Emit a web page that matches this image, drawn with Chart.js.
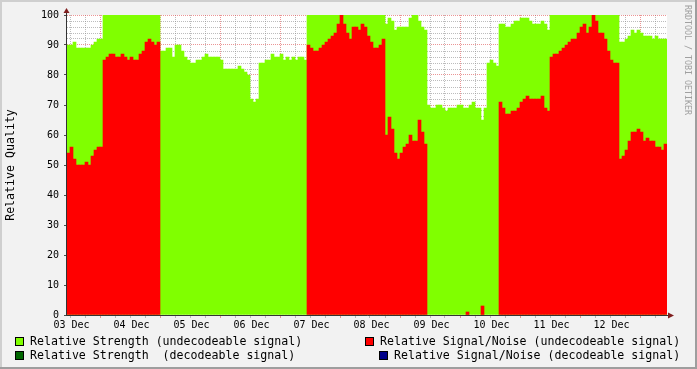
<!DOCTYPE html>
<html>
<head>
<meta charset="utf-8">
<script src="https://cdn.jsdelivr.net/npm/chart.js@4/dist/chart.umd.min.js"></script>
<style>
  html, body { margin: 0; padding: 0; background: #f2f2f2; }
  #wrap { position: relative; width: 697px; height: 369px; overflow: hidden; font-family: 'DejaVu Sans Mono', monospace; }
  #chart { position: absolute; left: 0; top: 0; }
  .leg { position: absolute; font-size: 11.6px; line-height: 14px; color: #000; white-space: pre; padding-left: 15px; }
  .leg i { position: absolute; left: 0; top: 3px; width: 7px; height: 7px; border: 1px solid #000; }
  #mark { position: absolute; left: 683px; top: 5px; writing-mode: vertical-rl; font-size: 8.3px; line-height: 10px; color: #a0a0a0; white-space: pre; }
</style>
</head>
<body>
<div id="wrap">
  <canvas id="chart" width="697" height="369"></canvas>
  <div id="legend"></div>
  <div id="mark">RRDTOOL / TOBI OETIKER</div>
</div>
<script>
// one day = 20 samples (72 min each), 03 Dec .. 12 Dec
const dayLabels = ['03 Dec', '04 Dec', '05 Dec', '06 Dec', '07 Dec', '08 Dec', '09 Dec', '10 Dec', '11 Dec', '12 Dec'];
const slotsPerDay = 20;
const slots = dayLabels.flatMap(d => Array(slotsPerDay).fill(d));

// Relative Strength (undecodeable signal)
const strengthUndecodeable = [
  90, 90, 91, 89, 89, 89, 89, 89, 90, 91, 92, 92, 100, 100, 100, 100, 100, 100, 100, 100,
  100, 100, 100, 100, 100, 100, 100, 100, 100, 100, 100, 88, 88, 89, 89, 86, 90, 90, 88, 86,
  85, 84, 84, 85, 85, 86, 87, 86, 86, 86, 86, 85, 82, 82, 82, 82, 82, 83, 82, 81,
  80, 72, 71, 72, 84, 84, 85, 85, 87, 86, 86, 87, 85, 86, 85, 86, 85, 86, 86, 85,
  100, 100, 100, 100, 100, 100, 100, 100, 100, 100, 100, 100, 100, 100, 100, 100, 100, 100, 100, 100,
  100, 100, 100, 100, 100, 100, 97, 99, 98, 95, 96, 96, 96, 96, 99, 100, 100, 98, 96, 95,
  70, 69, 69, 70, 70, 69, 68, 69, 69, 69, 70, 70, 69, 69, 70, 71, 69, 69, 65, 69,
  84, 85, 84, 83, 97, 97, 96, 96, 97, 98, 98, 99, 99, 99, 98, 97, 97, 97, 98, 97,
  95, 100, 100, 100, 100, 100, 100, 100, 100, 100, 100, 100, 100, 100, 100, 100, 100, 100, 100, 100,
  100, 100, 100, 100, 91, 91, 92, 93, 95, 94, 95, 94, 93, 93, 93, 92, 93, 92, 92, 92
];

// Relative Signal/Noise (undecodeable signal), null = no sample
const snrUndecodeable = [
  54, 56, 52, 50, 50, 50, 51, 50, 53, 55, 56, 56, 85, 86, 87, 87, 86, 86, 87, 86,
  85, 86, 85, 85, 87, 88, 91, 92, 91, 90, 91, null, null, null, null, null, null, null, null, null,
  null, null, null, null, null, null, null, null, null, null, null, null, null, null, null, null, null, null, null, null,
  null, null, null, null, null, null, null, null, null, null, null, null, null, null, null, null, null, null, null, null,
  90, 89, 88, 88, 89, 90, 91, 92, 93, 94, 97, 100, 97, 94, 92, 96, 96, 95, 97, 96,
  93, 91, 89, 89, 90, 92, 60, 66, 62, 54, 52, 54, 56, 57, 60, 58, 58, 65, 61, 57,
  null, null, null, null, null, null, null, null, null, null, null, null, null, 1, null, null, null, null, 3, null,
  null, null, null, null, 71, 69, 67, 67, 68, 68, 69, 71, 72, 73, 72, 72, 72, 72, 73, 69,
  68, 86, 87, 87, 88, 89, 90, 91, 92, 92, 94, 96, 97, 94, 96, 100, 98, 94, 94, 92,
  88, 85, 84, 84, 52, 53, 55, 58, 61, 61, 62, 61, 58, 59, 58, 58, 56, 56, 55, 57
];

// no decodeable samples in this period
const strengthDecodeable = [];
const snrDecodeable = [];

const yTicks = { min: 0, max: 100, minorStep: 2, majorStep: 10 };

const GRID = 'rgba(143,143,143,0.6)';
const MGRID = 'rgba(222,79,79,0.6)';

const isMajorX = i => i >= 0 && (i - 11) % slotsPerDay === 0;
const isMinorX = i => i >= 1 && (i - 1) % 5 === 0;
const xGridColor = ctx => isMajorX(ctx.index) ? MGRID : isMinorX(ctx.index) ? GRID : 'transparent';
const yGridColor = ctx => {
  if (!ctx.tick) return 'transparent';
  return ctx.tick.value % yTicks.majorStep === 0 ? MGRID : GRID;
};

// background, frame, axis lines and arrows the rrdtool way
const rrdFrame = {
  id: 'rrdFrame',
  beforeDraw(chart) {
    const { ctx, chartArea: a, width, height } = chart;
    ctx.save();
    ctx.fillStyle = '#f2f2f2';
    ctx.fillRect(0, 0, width, height);
    ctx.fillStyle = '#ffffff';
    ctx.fillRect(a.left, a.top, a.right - a.left, a.bottom - a.top);
    ctx.fillStyle = '#cfcfcf';
    ctx.fillRect(0, 0, width, 2);
    ctx.fillRect(0, 0, 2, height);
    ctx.fillStyle = '#9e9e9e';
    ctx.fillRect(0, height - 2, width, 2);
    ctx.fillRect(width - 2, 0, 2, height);
    ctx.restore();
  },
  afterDraw(chart) {
    const { ctx, chartArea: a } = chart;
    const x0 = a.left - 0.5, y0 = a.bottom + 0.5;
    ctx.save();
    ctx.strokeStyle = '#333';
    ctx.lineWidth = 1;
    ctx.beginPath();
    ctx.moveTo(x0, y0);
    ctx.lineTo(x0, a.top - 2);
    ctx.moveTo(x0, y0);
    ctx.lineTo(a.right + 1, y0);
    ctx.stroke();
    ctx.fillStyle = '#801f1f';
    ctx.beginPath();
    ctx.moveTo(x0, a.top - 7);
    ctx.lineTo(x0 - 3, a.top - 2);
    ctx.lineTo(x0 + 3, a.top - 2);
    ctx.closePath();
    ctx.fill();
    ctx.beginPath();
    ctx.moveTo(a.right + 7, y0);
    ctx.lineTo(a.right + 1, y0 - 3);
    ctx.lineTo(a.right + 1, y0 + 3);
    ctx.closePath();
    ctx.fill();
    ctx.restore();
  }
};

Chart.defaults.font.family = "'DejaVu Sans Mono', monospace";
Chart.defaults.color = '#000';

const chart = new Chart(document.getElementById('chart'), {
  type: 'bar',
  data: {
    labels: slots,
    datasets: [
      { label: 'Relative Strength (undecodeable signal)', data: strengthUndecodeable, backgroundColor: '#80ff00', order: 3 },
      { label: 'Relative Signal/Noise (undecodeable signal)', data: snrUndecodeable, backgroundColor: '#ff0000', order: 2 },
      { label: 'Relative Strength  (decodeable signal)', data: strengthDecodeable, backgroundColor: '#006600', order: 1 },
      { label: 'Relative Signal/Noise (decodeable signal)', data: snrDecodeable, backgroundColor: '#000088', order: 0 }
    ]
  },
  options: {
    responsive: false,
    animation: false,
    devicePixelRatio: 1,
    grouped: false,
    barPercentage: 1,
    categoryPercentage: 1,
    borderWidth: 0,
    layout: { padding: { left: 0, top: 15, right: 30, bottom: 0 } },
    plugins: { legend: { display: false }, tooltip: { enabled: false } },
    scales: {
      x: {
        type: 'category',
        offset: true,
        z: 1,
        grid: { offset: true, color: xGridColor, tickColor: xGridColor, tickLength: 3, lineWidth: 1 },
        border: { display: false, dash: [1, 1] },
        ticks: {
          autoSkip: false, maxRotation: 0, minRotation: 0, padding: 1,
          font: { size: 10 },
          callback: (v, i) => i % slotsPerDay === 1 ? slots[i] : ''
        },
        afterFit: s => { s.height = 54; }
      },
      y: {
        min: yTicks.min,
        max: yTicks.max,
        z: 1,
        grid: {
          color: yGridColor,
          tickColor: ctx => ctx.tick && ctx.tick.value % yTicks.majorStep === 0 ? 'rgba(31,31,31,0.8)' : 'transparent',
          tickLength: 3
        },
        border: { display: false, dash: [1, 1] },
        ticks: {
          stepSize: yTicks.minorStep, autoSkip: false, maxTicksLimit: 100, padding: 5,
          font: { size: 10 },
          callback: v => v % yTicks.majorStep === 0 ? v : ''
        },
        title: { display: true, text: 'Relative Quality', font: { size: 11.6 }, padding: { top: 4, bottom: 0 } },
        afterFit: s => { s.width = 67; }
      }
    }
  },
  plugins: [rrdFrame]
});

// two-column rrdtool style legend, built from the datasets
const legendSpots = [[15, 334], [365, 334], [15, 348], [379, 348]];
const legendBox = document.getElementById('legend');
chart.data.datasets.forEach((ds, k) => {
  const el = document.createElement('div');
  el.className = 'leg';
  el.style.left = legendSpots[k][0] + 'px';
  el.style.top = legendSpots[k][1] + 'px';
  const sw = document.createElement('i');
  sw.style.background = ds.backgroundColor;
  el.appendChild(sw);
  el.appendChild(document.createTextNode(ds.label));
  legendBox.appendChild(el);
});
</script>
</body>
</html>
